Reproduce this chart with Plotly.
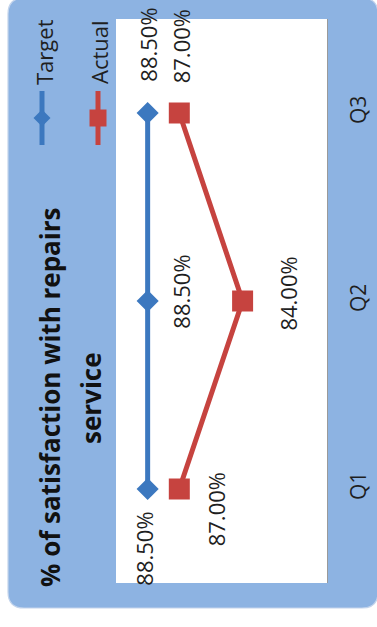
import plotly.graph_objects as go

# ---- data -------------------------------------------------------------
quarters = ["Q1", "Q2", "Q3"]
target = [0.885, 0.885, 0.885]
actual = [0.87, 0.84, 0.87]
series_names = ["Target", "Actual"]
title_lines = ["% of satisfaction with repairs", "service"]

# ---- geometry (pixels) -------------------------------------------------
W, H = 377, 627
L, R, T, B = 116, 327, 19, 583          # plot area box


def px(x):
    return (x - L) / (R - L)


def py(y):
    return (B - y) / (B - T)


PANEL = "#8DB3E2"
TARGET_C = "#3C78BF"
ACTUAL_C = "#C6433F"
TEXT_C = "#1f1f1f"
FONT = "Open Sans"

fig = go.Figure()

fig.add_trace(go.Scatter(
    x=target, y=quarters, mode="lines+markers", name=series_names[0],
    line=dict(color=TARGET_C, width=5),
    marker=dict(symbol="diamond", size=17, color=TARGET_C),
    showlegend=False, hoverinfo="skip",
))
fig.add_trace(go.Scatter(
    x=actual, y=quarters, mode="lines+markers", name=series_names[1],
    line=dict(color=ACTUAL_C, width=5),
    marker=dict(symbol="square", size=21, color=ACTUAL_C),
    showlegend=False, hoverinfo="skip",
))

# data labels, rotated with the chart
target_shift = [(-4, -60), (33, 9), (0, 68)]
actual_shift = [(37, -20), (45, 7), (2, 67)]
annotations = []
for vals, shifts in ((target, target_shift), (actual, actual_shift)):
    for q, v, (dx, dy) in zip(quarters, vals, shifts):
        annotations.append(dict(
            x=v, y=q, xref="x", yref="y", text=f"{v:.2%}", showarrow=False,
            textangle=-90, xshift=dx, yshift=dy,
            font=dict(family=FONT, size=22, color=TEXT_C),
        ))

# chart title, two rotated lines
for line, xc in zip(title_lines, (50, 91)):
    annotations.append(dict(
        x=px(xc), y=py(398), xref="paper", yref="paper", text=line,
        showarrow=False, textangle=-90, xanchor="center", yanchor="middle",
        font=dict(family=FONT, size=26, color="#111111", weight="bold"),
    ))

# legend texts
for name, xc in zip(series_names, (44, 99)):
    annotations.append(dict(
        x=px(xc), y=py(52), xref="paper", yref="paper", text=name,
        showarrow=False, textangle=-90, xanchor="center", yanchor="middle",
        font=dict(family=FONT, size=22, color=TEXT_C),
    ))

shapes = []


def rounded_rect(x0, y0, x1, y1, r):
    rx = r / (R - L)
    ry = r / (B - T)
    X0, X1 = px(x0), px(x1)
    Y0, Y1 = py(y1), py(y0)   # bottom, top in paper units
    return (
        f"M {X0 + rx} {Y1} L {X1 - rx} {Y1} Q {X1} {Y1} {X1} {Y1 - ry} "
        f"L {X1} {Y0 + ry} Q {X1} {Y0} {X1 - rx} {Y0} "
        f"L {X0 + rx} {Y0} Q {X0} {Y0} {X0} {Y0 + ry} "
        f"L {X0} {Y1 - ry} Q {X0} {Y1} {X0 + rx} {Y1} Z"
    )


# blue chart panel
shapes.append(dict(
    type="path", xref="paper", yref="paper", layer="below",
    path=rounded_rect(8, -2, 378, 608, 16),
    fillcolor=PANEL, line=dict(color="#c3d4ec", width=1.2),
))
# white plotting area on top of the panel
shapes.append(dict(
    type="rect", xref="paper", yref="paper", layer="below",
    x0=0, x1=1, y0=0, y1=1, fillcolor="white", line=dict(width=0),
))

# legend keys
for color, xc in ((TARGET_C, 42), (ACTUAL_C, 98)):
    shapes.append(dict(
        type="line", xref="paper", yref="paper",
        x0=px(xc), x1=px(xc), y0=py(91), y1=py(145),
        line=dict(color=color, width=5),
    ))
# diamond key
d = 8.5
shapes.append(dict(
    type="path", xref="paper", yref="paper",
    path=(f"M {px(42)} {py(118 - d)} L {px(42 + d)} {py(118)} "
          f"L {px(42)} {py(118 + d)} L {px(42 - d)} {py(118)} Z"),
    fillcolor=TARGET_C, line=dict(width=0),
))
# square key
s = 8.5
shapes.append(dict(
    type="rect", xref="paper", yref="paper",
    x0=px(98 - s), x1=px(98 + s), y0=py(118 + s), y1=py(118 - s),
    fillcolor=ACTUAL_C, line=dict(width=0),
))

fig.update_layout(
    template="none",
    width=W, height=H,
    margin=dict(l=L, r=W - R, t=T, b=H - B, pad=0),
    paper_bgcolor="white", plot_bgcolor="white",
    xaxis=dict(range=[0.90, 0.80], visible=False, showgrid=False,
               zeroline=False, automargin=False),
    yaxis=dict(
        type="category", categoryorder="array", categoryarray=quarters,
        range=[-0.5, 2.5], side="right", showgrid=False, zeroline=False,
        showline=True, linecolor="#9a9a9a", linewidth=1.2, automargin=False,
        ticks="", tickangle=-90, ticklabelstandoff=13,
        tickfont=dict(family=FONT, size=21, color=TEXT_C),
    ),
    annotations=annotations, shapes=shapes,
    showlegend=False,
)

fig.write_html("out.html")
